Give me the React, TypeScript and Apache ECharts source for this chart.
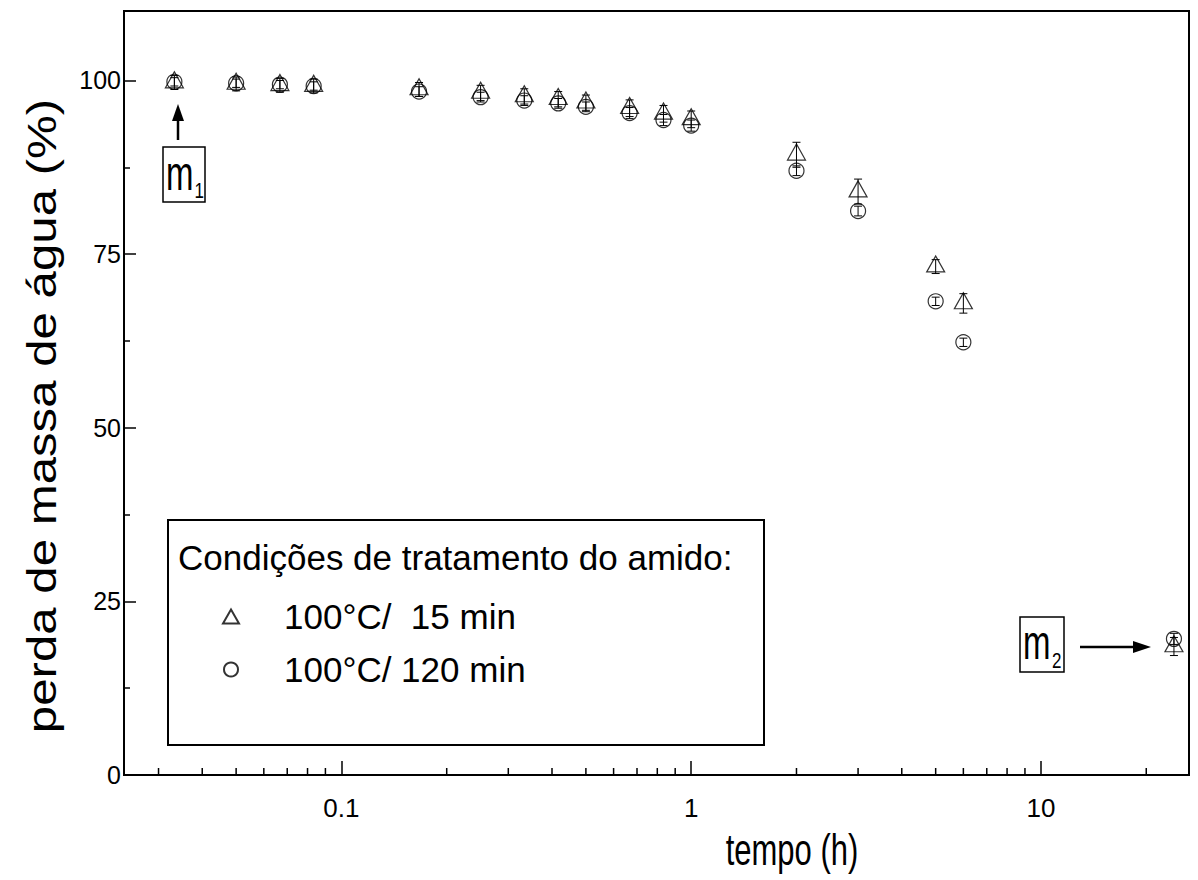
import React, { useEffect, useRef } from "react";
import * as echarts from "echarts";

// ---- data ----
const timeHours = [0.0333, 0.05, 0.0667, 0.0833, 0.1667, 0.25, 0.3333, 0.4167, 0.5, 0.6667, 0.8333, 1, 2, 3, 5, 6, 24];
const massLoss15 = [99.7, 99.5, 99.3, 99.2, 98.7, 98.2, 97.7, 97.3, 96.8, 96.0, 95.2, 94.4, 89.3, 84.0, 73.2, 67.9, 18.5];
const massLoss120 = [99.8, 99.6, 99.4, 99.2, 98.4, 97.6, 97.1, 96.7, 96.2, 95.3, 94.3, 93.5, 87.0, 81.2, 68.2, 62.3, 19.6];
const err15 = [1.0, 1.0, 1.0, 1.0, 1.0, 1.1, 1.1, 1.1, 1.1, 1.2, 1.2, 1.2, 1.8, 1.8, 1.0, 1.4, 1.3];
const err120 = [0.6, 0.6, 0.6, 0.6, 0.7, 0.7, 0.7, 0.7, 0.7, 0.8, 0.8, 0.8, 0.7, 0.7, 0.6, 0.6, 0.8];
const xMinorTicks = [0.03, 0.04, 0.05, 0.06, 0.07, 0.08, 0.09, 0.2, 0.3, 0.4, 0.5, 0.6, 0.7, 0.8, 0.9, 2, 3, 4, 5, 6, 7, 8, 9, 20];
const seriesNames = ["100°C/  15 min", "100°C/ 120 min"];
const legendTitle = "Condições de tratamento do amido:";
const xTitle = "tempo (h)";
const yTitle = "perda de massa de água (%)";
const xMin = 0.0239;
const xMax = 26.5;
const yMin = 0;
const yMax = 110;
const yInterval = 25;

const FONT = '"Liberation Sans", Arial, Helvetica, sans-serif';

function errorBarRender(params: any, api: any) {
  const x = api.value(0);
  const y = api.value(1);
  const e = api.value(2);
  const top = api.coord([x, y + e]);
  const bot = api.coord([x, y - e]);
  const cw = 4;
  const st = { stroke: "#000", lineWidth: 1 };
  return {
    type: "group",
    children: [
      { type: "line", shape: { x1: top[0], y1: top[1], x2: bot[0], y2: bot[1] }, style: st },
      { type: "line", shape: { x1: top[0] - cw, y1: top[1], x2: top[0] + cw, y2: top[1] }, style: st },
      { type: "line", shape: { x1: bot[0] - cw, y1: bot[1], x2: bot[0] + cw, y2: bot[1] }, style: st },
    ],
  };
}

function minorTickRender(params: any, api: any) {
  const p = api.coord([api.value(0), yMin]);
  return {
    type: "line",
    shape: { x1: p[0], y1: p[1], x2: p[0], y2: p[1] - 7 },
    style: { stroke: "#000", lineWidth: 1.5 },
  };
}

export default function App() {
  const ref = useRef<HTMLDivElement>(null);
  useEffect(() => {
    if (!ref.current) return;
    const chart = echarts.init(ref.current, undefined, { renderer: "svg" });
    const option: any = {
      animation: false,
      backgroundColor: "#fff",
      grid: {
        left: 124,
        right: 9,
        top: 11,
        bottom: 105,
        show: true,
        borderColor: "#000",
        borderWidth: 2,
      },
      xAxis: {
        type: "log",
        logBase: 10,
        min: xMin,
        max: xMax,
        axisLine: { show: true, lineStyle: { color: "#000", width: 2 } },
        axisTick: { show: true, inside: true, length: 14, lineStyle: { color: "#000", width: 1.5 } },
        axisLabel: {
          show: true,
          fontSize: 26,
          fontFamily: FONT,
          color: "#000",
          margin: 20,
          showMinLabel: false,
          showMaxLabel: false,
        },
        splitLine: { show: false },
        minorTick: { show: false },
      },
      yAxis: {
        type: "value",
        min: yMin,
        max: yMax,
        interval: yInterval,
        axisLine: { show: true, lineStyle: { color: "#000", width: 2 } },
        axisTick: { show: true, inside: true, length: 12, lineStyle: { color: "#000", width: 1.5 } },
        minorTick: { show: true, splitNumber: 2, length: 6, lineStyle: { color: "#000", width: 1.5 } },
        axisLabel: {
          fontSize: 25,
          fontFamily: FONT,
          color: "#000",
          margin: 3,
          showMaxLabel: false,
        },
        splitLine: { show: false },
      },
      legend: {
        data: seriesNames,
        orient: "vertical",
        left: 217,
        top: 594,
        itemWidth: 16,
        itemHeight: 14,
        itemGap: 18,
        selectedMode: false,
        textStyle: { fontSize: 35, fontFamily: FONT, color: "#000", lineHeight: 35, padding: [0, 0, 0, 40] },
      },
      graphic: [
        {
          type: "text",
          x: 792,
          y: 849,
          scaleY: 1.45,
          style: { text: xTitle, fontSize: 31, fontFamily: FONT, fill: "#000", align: "center", verticalAlign: "middle" },
          z: 10,
        },
        {
          type: "text",
          x: 42,
          y: 416,
          rotation: Math.PI / 2,
          scaleX: 1.23,
          style: { text: yTitle, fontSize: 40, fontFamily: FONT, fill: "#000", align: "center", verticalAlign: "middle" },
          z: 10,
        },
        {
          type: "rect",
          shape: { x: 168, y: 520, width: 596, height: 225 },
          style: { fill: "transparent", stroke: "#000", lineWidth: 2 },
          z: 10,
        },
        {
          type: "text",
          x: 178,
          y: 557,
          style: { text: legendTitle, fontSize: 35, fontFamily: FONT, fill: "#000", verticalAlign: "middle" },
          z: 10,
        },
        {
          type: "rect",
          shape: { x: 163, y: 147, width: 42, height: 55 },
          style: { fill: "transparent", stroke: "#000", lineWidth: 1.5 },
          z: 10,
        },
        {
          type: "text",
          x: 166,
          y: 174,
          scaleY: 1.45,
          style: { text: "m", fontSize: 33, fontFamily: FONT, fill: "#000", verticalAlign: "middle" },
          z: 10,
        },
        {
          type: "text",
          x: 194.5,
          y: 190,
          scaleY: 1.3,
          style: { text: "1", fontSize: 17, fontFamily: FONT, fill: "#000", verticalAlign: "middle" },
          z: 10,
        },
        {
          type: "line",
          shape: { x1: 178, y1: 140, x2: 178, y2: 118 },
          style: { stroke: "#000", lineWidth: 2.5 },
          z: 10,
        },
        {
          type: "polygon",
          shape: { points: [[178, 104], [172, 121], [184, 121]] },
          style: { fill: "#000" },
          z: 10,
        },
        {
          type: "rect",
          shape: { x: 1020, y: 617, width: 44, height: 55 },
          style: { fill: "transparent", stroke: "#000", lineWidth: 1.5 },
          z: 10,
        },
        {
          type: "text",
          x: 1023,
          y: 643,
          scaleY: 1.45,
          style: { text: "m", fontSize: 33, fontFamily: FONT, fill: "#000", verticalAlign: "middle" },
          z: 10,
        },
        {
          type: "text",
          x: 1052,
          y: 660,
          scaleY: 1.3,
          style: { text: "2", fontSize: 17, fontFamily: FONT, fill: "#000", verticalAlign: "middle" },
          z: 10,
        },
        {
          type: "line",
          shape: { x1: 1080, y1: 647, x2: 1135, y2: 647 },
          style: { stroke: "#000", lineWidth: 2.5 },
          z: 10,
        },
        {
          type: "polygon",
          shape: { points: [[1151, 647], [1133, 641], [1133, 653]] },
          style: { fill: "#000" },
          z: 10,
        },
      ],
      series: [
        {
          name: seriesNames[0],
          type: "scatter",
          symbol: "triangle",
          symbolSize: [18, 16],
          symbolOffset: [0, -2.7],
          data: timeHours.map((t, i) => [t, massLoss15[i]]),
          itemStyle: { color: "rgba(0,0,0,0)", borderColor: "#000", borderWidth: 1.2 },
          z: 5,
        },
        {
          name: seriesNames[1],
          type: "scatter",
          symbol: "circle",
          symbolSize: 15,
          data: timeHours.map((t, i) => [t, massLoss120[i]]),
          itemStyle: { color: "rgba(0,0,0,0)", borderColor: "#000", borderWidth: 1.2 },
          z: 5,
        },
        {
          name: "err15",
          type: "custom",
          renderItem: errorBarRender,
          data: timeHours.map((t, i) => [t, massLoss15[i], err15[i]]),
          silent: true,
          z: 4,
        },
        {
          name: "err120",
          type: "custom",
          renderItem: errorBarRender,
          data: timeHours.map((t, i) => [t, massLoss120[i], err120[i]]),
          silent: true,
          z: 4,
        },
        {
          name: "xMinorTicks",
          type: "custom",
          renderItem: minorTickRender,
          data: xMinorTicks.map((v) => [v, yMin]),
          silent: true,
          z: 6,
        },
      ],
    };
    chart.setOption(option);
    return () => chart.dispose();
  }, []);
  return (
    <div
      ref={ref}
      style={{ position: "fixed", left: 0, top: 0, width: 1198, height: 880, background: "#fff" }}
    />
  );
}
